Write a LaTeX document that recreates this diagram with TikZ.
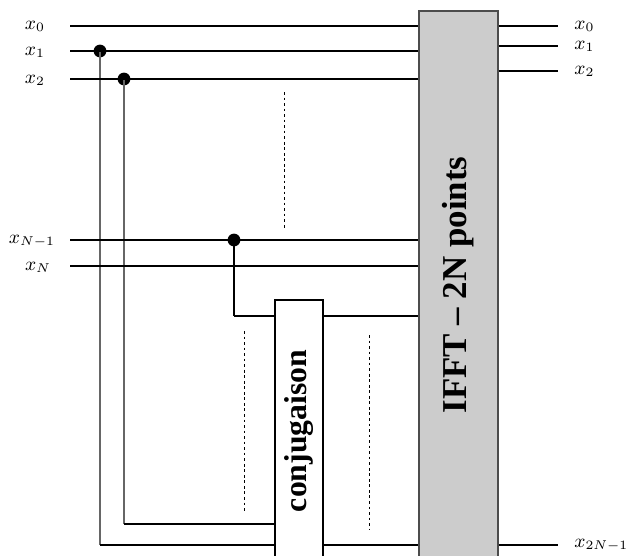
\documentclass[tikz,border=0pt]{standalone}
\usepackage{fontspec}
\newfontfamily\tms[Ligatures=TeX]{Liberation Serif}
\begin{document}
\begin{tikzpicture}[x=0.47pt,y=-0.47pt,
  hline/.style={line width=0.5pt,black},
  vline/.style={line width=0.6pt,black!60},
  dots/.style={line width=0.4pt,dash pattern=on 1.3pt off 1.3pt},
  dot/.style={circle,fill=black,inner sep=0pt,minimum size=6pt},
  lab/.style={inner sep=0pt,font=\fontsize{9}{10}\selectfont},
  ifftbox/.style={draw=black!70,line width=0.6pt,fill=black!20,inner sep=0pt,
    minimum width=79*0.47pt,minimum height=549*0.47pt},
  conjbox/.style={draw=black,line width=0.5pt,fill=white,inner sep=0pt,
    minimum width=48*0.47pt,minimum height=262*0.47pt}
  ]
\useasboundingbox (0,0) rectangle (626,555);
\clip (0,0) rectangle (626,555);
% boxes
\node[ifftbox] (ifft) at (458.5,285.5) {};
\node[rotate=90,font=\tms\fontsize{16.4}{18}\selectfont\bfseries] (ifftlab) at (458,285) {IFFT \textendash{} 2N points};
\node[conjbox] (conj) at (299,431) {};
\node[rotate=90,font=\tms\fontsize{14.9}{17}\selectfont\bfseries] (conjlab) at (299,431) {conjugaison};
% input labels
\node[lab] (l0) at (35,26) {$x_0$};
\node[lab] (l1) at (35,52) {$x_1$};
\node[lab] (l2) at (35,80) {$x_2$};
\node[lab] (lN1) at (32,241) {$x_{N-1}$};
\node[lab] (lN) at (38,267) {$x_N$};
% input line starts
\coordinate (i0) at (70,26);
\coordinate (i1) at (70,51);
\coordinate (i2) at (70,79);
\coordinate (iN1) at (70,240);
\coordinate (iN) at (70,266);
% branch points
\node[dot] (d1) at (100,51) {};
\node[dot] (d2) at (124,79) {};
\node[dot] (dN1) at (234,240) {};
% corners
\coordinate (c1) at (100,545);
\coordinate (c2) at (124,524);
\coordinate (cN1) at (234,316);
% vertical branches
\draw[vline] (d1.center) -- (c1);
\draw[vline] (d2.center) -- (c2);
\draw[hline] (dN1.center) -- (cN1);
% horizontal input lines
\draw[hline] (i0) -- (i0 -| ifft.west);
\draw[hline] (i1) -- (i1 -| ifft.west);
\draw[hline] (i2) -- (i2 -| ifft.west);
\draw[hline] (iN1) -- (iN1 -| ifft.west);
\draw[hline] (iN) -- (iN -| ifft.west);
% to conjugaison
\draw[hline] (c1) -- (c1 -| conj.west);
\draw[hline] (c2) -- (c2 -| conj.west);
\draw[hline] (cN1) -- (cN1 -| conj.west);
% from conjugaison to IFFT
\draw[hline] (c1 -| conj.east) -- (c1 -| ifft.west);
\draw[hline] (cN1 -| conj.east) -- (cN1 -| ifft.west);
% outputs
\coordinate (o0) at (558,26);
\coordinate (o1) at (558,46);
\coordinate (o2) at (558,71);
\coordinate (o3) at (558,545);
\draw[hline] (o0 -| ifft.east) -- (o0);
\draw[hline] (o1 -| ifft.east) -- (o1);
\draw[hline] (o2 -| ifft.east) -- (o2);
\draw[hline] (o3 -| ifft.east) -- (o3);
\node[lab,anchor=west] (r0) at (574,26) {$x_0$};
\node[lab,anchor=west] (r1) at (574,46) {$x_1$};
\node[lab,anchor=west] (r2) at (574,71) {$x_2$};
\node[lab,anchor=west] (r3) at (574,545) {$x_{2N-1}$};
% dashed continuation marks
\coordinate (v1a) at (284,92);  \coordinate (v1b) at (284,228);
\coordinate (v2a) at (244,331); \coordinate (v2b) at (244,513);
\coordinate (v3a) at (369,335); \coordinate (v3b) at (369,529);
\draw[dots] (v1a) -- (v1b);
\draw[dots] (v2a) -- (v2b);
\draw[dots] (v3a) -- (v3b);
\end{tikzpicture}
\end{document}
